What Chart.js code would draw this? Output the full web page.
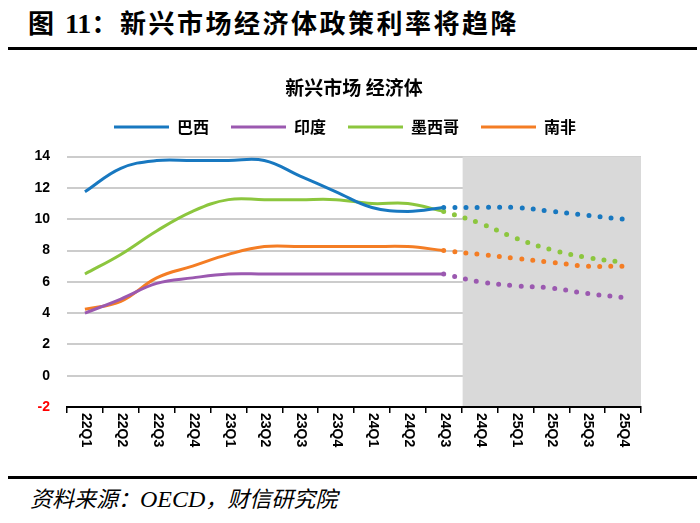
<!DOCTYPE html>
<html>
<head>
<meta charset="utf-8">
<script src="https://cdn.jsdelivr.net/npm/chart.js@4.4.1/dist/chart.umd.min.js"></script>
<style>
  body { margin: 0; width: 700px; height: 523px; background: #fff; position: relative; overflow: hidden; }
  .head { position: absolute; left: 28px; top: 3px; font-family: "Noto Sans CJK SC"; font-weight: 700; font-size: 26px; letter-spacing: 2.5px; color: #000; white-space: nowrap; }
  .head .num { font-family: "Liberation Serif"; font-weight: 700; font-size: 28px; letter-spacing: 0; }
  .rule { position: absolute; left: 8px; width: 689px; height: 3px; background: #000; }
  .foot { position: absolute; left: 30px; top: 481px; font-family: "Noto Sans CJK SC"; font-style: italic; font-size: 22px; color: #000; white-space: nowrap; }
  .foot .lat { font-family: "Liberation Serif"; font-size: 24px; }
  #wrap { position: absolute; left: 0; top: 60px; width: 700px; height: 405px; }
</style>
</head>
<body>
<div class="head">图 <span class="num">11</span>：新兴市场经济体政策利率将趋降</div>
<div class="rule" style="top:47px"></div>
<div id="wrap"><canvas id="chart"></canvas></div>
<div class="rule" style="top:476px"></div>
<div class="foot">资料来源：<span class="lat">OECD</span>，财信研究院</div>

<script>
const quarters = ['22Q1', '22Q2', '22Q3', '22Q4', '23Q1', '23Q2', '23Q3', '23Q4',
    '24Q1', '24Q2', '24Q3', '24Q4', '25Q1', '25Q2', '25Q3', '25Q4']
const countries = ['巴西', '印度', '墨西哥', '南非']
const colors = ['#1878C0', '#9B59B0', '#8CC63E', '#F47D24']

// actual policy rates up to 24Q3
const brazilActual = [11.75, 13.25, 13.75, 13.75, 13.75, 13.75, 12.75, 11.75, 10.75, 10.5, 10.75, null, null, null, null, null]
const indiaActual = [4.0, 4.9, 5.9, 6.25, 6.5, 6.5, 6.5, 6.5, 6.5, 6.5, 6.5, null, null, null, null, null]
const mexicoActual = [6.5, 7.75, 9.25, 10.5, 11.25, 11.25, 11.25, 11.25, 11.0, 11.0, 10.5, null, null, null, null, null]
const safricaActual = [4.25, 4.75, 6.25, 7.0, 7.75, 8.25, 8.25, 8.25, 8.25, 8.25, 8.0, null, null, null, null, null]

// forecast path from 24Q3 on
const brazilForecast = [null, null, null, null, null, null, null, null, null, null, 10.75, 10.75, 10.75, 10.5, 10.25, 10.0]
const indiaForecast = [null, null, null, null, null, null, null, null, null, null, 6.5, 6.0, 5.75, 5.6, 5.25, 5.0]
const mexicoForecast = [null, null, null, null, null, null, null, null, null, null, 10.5, 9.75, 8.8, 8.05, 7.55, 7.25]
const safricaForecast = [null, null, null, null, null, null, null, null, null, null, 8.0, 7.75, 7.5, 7.25, 7.0, 7.0]

const actualSeries = [brazilActual, indiaActual, mexicoActual, safricaActual]
const forecastSeries = [brazilForecast, indiaForecast, mexicoForecast, safricaForecast]
const forecastStart = '24Q4'

const datasets = []
actualSeries.forEach((values, i) => {
    datasets.push({
        label: countries[i],
        data: values,
        borderColor: colors[i],
        backgroundColor: colors[i],
        borderWidth: 3,
        pointRadius: 0,
        tension: 0.4
    })
})
forecastSeries.forEach((values, i) => {
    datasets.push({
        label: countries[i] + '预测',
        data: values,
        borderColor: colors[i],
        backgroundColor: colors[i],
        borderWidth: 5,
        borderDash: [0, 11.2],
        borderCapStyle: 'round',
        pointRadius: 0,
        tension: 0.4
    })
})

const shadePlugin = {
    id: 'shade',
    afterLayout(chart) {
        // legend sits a little left of the plot centre in the original
        chart.legend.left -= 9
        chart.legend.right -= 9
    },
    beforeDatasetsDraw(chart) {
        const {ctx, chartArea, scales: {x, y}} = chart
        const idx = quarters.indexOf(forecastStart)
        const left = (x.getPixelForValue(idx - 1) + x.getPixelForValue(idx)) / 2 + 1
        const top = y.getPixelForValue(14)
        const bottom = y.getPixelForValue(-2) - 1
        ctx.save()
        ctx.fillStyle = '#d9d9d9'
        ctx.fillRect(left, top, chartArea.right - left, bottom - top)
        ctx.restore()
    }
}

// x labels read top to bottom, so they are drawn here
const xLabelPlugin = {
    id: 'xLabels',
    afterDraw(chart) {
        const {ctx, scales: {x}} = chart
        ctx.save()
        ctx.font = 'bold 14px "Liberation Sans", Arial'
        ctx.fillStyle = '#000'
        ctx.textAlign = 'left'
        ctx.textBaseline = 'middle'
        quarters.forEach((q, i) => {
            ctx.save()
            ctx.translate(x.getPixelForValue(i) + 1, x.top + 6)
            ctx.rotate(Math.PI / 2)
            ctx.fillText(q, 0, 0)
            ctx.restore()
        })
        ctx.restore()
    }
}

new Chart(document.getElementById('chart'), {
    type: 'line',
    data: { labels: quarters, datasets: datasets },
    plugins: [shadePlugin, xLabelPlugin],
    options: {
        responsive: true,
        maintainAspectRatio: false,
        animation: false,
        layout: { padding: { left: 10, right: 59, top: 10, bottom: 0 } },
        plugins: {
            tooltip: { enabled: false },
            title: {
                display: true,
                text: '新兴市场 经济体',
                fullSize: false,
                color: '#000',
                font: { family: '"Noto Sans CJK SC"', size: 19, weight: 'bold', lineHeight: 1.0 },
                padding: { top: 8, bottom: 0 }
            },
            legend: {
                display: true,
                fullSize: false,
                weight: 1600,
                labels: {
                    color: '#000',
                    font: { family: '"Noto Sans CJK SC"', size: 16, weight: 'bold' },
                    boxWidth: 55,
                    boxHeight: 3,
                    padding: 22,
                    generateLabels: chart => Chart.defaults.plugins.legend.labels.generateLabels(chart)
                        .filter(l => l.datasetIndex < countries.length)
                        .map(l => ({ ...l, fillStyle: colors[l.datasetIndex], lineWidth: 0 }))
                }
            },
            subtitle: {
                // spacer between legend and plot
                display: true,
                text: ' ',
                weight: 1500,
                font: { size: 8 },
                padding: { top: 0, bottom: 2 }
            }
        },
        scales: {
            x: {
                offset: true,
                grid: { display: true, offset: true, drawOnChartArea: false, drawTicks: true, tickLength: 6, color: '#000', lineWidth: 1.5 },
                border: { display: true, color: '#000', width: 2 },
                ticks: { display: false },
                afterFit: scale => { scale.height = 58 }
            },
            y: {
                min: -2,
                max: 14,
                ticks: {
                    stepSize: 2,
                    padding: 17,
                    color: c => c.tick.value === -2 ? '#FF0000' : '#000',
                    font: { family: '"Liberation Sans", Arial', size: 14, weight: 'bold' }
                },
                grid: { color: c => c.tick.value === -2 ? 'rgba(0,0,0,0)' : '#cccccc', lineWidth: 2, drawTicks: false },
                border: { display: false },
                afterFit: scale => { scale.width = 57 }
            }
        }
    }
})
</script>
</body>
</html>
